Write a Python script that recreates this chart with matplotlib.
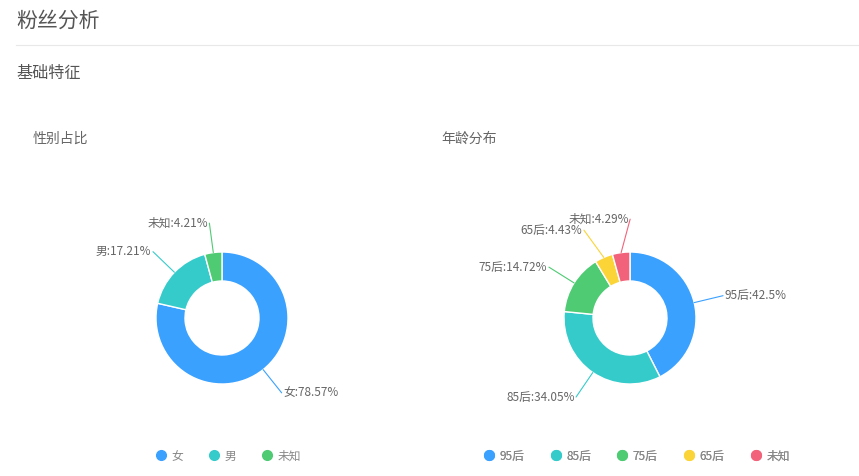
import numpy as np
import matplotlib
matplotlib.use("Agg")
import matplotlib.pyplot as plt
from matplotlib.lines import Line2D

plt.rcParams['font.family'] = ['Noto Sans CJK SC', 'DejaVu Sans']

# ---- data ----
gender_labels = ['女', '男', '未知']
gender_values = [78.57, 17.21, 4.21]
gender_colors = ['#3BA1FF', '#36CBCB', '#4ECB73']

age_labels = ['95后', '85后', '75后', '65后', '未知']
age_values = [42.5, 34.05, 14.72, 4.43, 4.29]
age_colors = ['#3BA1FF', '#36CBCB', '#4ECB73', '#FBD437', '#F2637B']

W, H = 859, 476
fig = plt.figure(figsize=(W / 100, H / 100), dpi=100)
ax = fig.add_axes([0, 0, 1, 1])
ax.set_xlim(0, W)
ax.set_ylim(0, H)
ax.axis('off')

def py(y):
    return H - y

# header
ax.text(16, py(21), '粉丝分析', fontsize=15, color='#555555', va='center', ha='left')
ax.plot([16, W], [py(44.5), py(44.5)], color='#e8e8e8', lw=0.8)
ax.text(16, py(73), '基础特征', fontsize=11.6, color='#555555', va='center', ha='left')
ax.text(33, py(139), '性别占比', fontsize=10, color='#666666', va='center', ha='left')
ax.text(441, py(139), '年龄分布', fontsize=10, color='#666666', va='center', ha='left')

R_OUT = 66
R_W = 29

def donut(cx, cy, labels, values, colors, nudges):
    wedges, _ = ax.pie(values, colors=colors, center=(cx, py(cy)), radius=R_OUT,
                       startangle=90, counterclock=False,
                       wedgeprops=dict(width=R_W, edgecolor='white', linewidth=1.0),
                       frame=True)
    for i, (w, lab, v, c) in enumerate(zip(wedges, labels, values, colors)):
        ang = np.deg2rad((w.theta1 + w.theta2) / 2)
        x0 = cx + R_OUT * np.cos(ang)
        y0 = py(cy) + R_OUT * np.sin(ang)
        x1 = cx + R_OUT * 1.45 * np.cos(ang)
        y1 = py(cy) + R_OUT * 1.45 * np.sin(ang)
        dx, dy = nudges.get(i, (0, 0))
        x1 += dx
        y1 += dy
        ax.plot([x0, x1], [y0, y1], color=c, lw=0.8, solid_capstyle='round')
        ha = 'left' if np.cos(ang) >= 0 else 'right'
        off = 1.5 if ha == 'left' else -1.5
        ax.text(x1 + off, y1, f'{lab}:{v}%', fontsize=8.5, color='#666666',
                ha=ha, va='center')

donut(222, 318, gender_labels, gender_values, gender_colors, {})
donut(630, 318, age_labels, age_values, age_colors, {3: (-8, 0), 4: (13, 4)})

ax.set_xlim(0, W)
ax.set_ylim(0, H)
ax.set_aspect('auto')
ax.axis('off')

def legend(x_center, labels, colors, spacing):
    handles = [Line2D([], [], marker='o', linestyle='none', markersize=7,
                      markerfacecolor=c, markeredgecolor=c) for c in colors]
    lg = ax.legend(handles, labels, loc='center', bbox_to_anchor=(x_center / W, 1 - 456 / H),
                   ncol=len(labels), frameon=False, fontsize=8.5, handlelength=0.8,
                   handletextpad=0.5, columnspacing=spacing)
    for t in lg.get_texts():
        t.set_color('#888888')
    ax.add_artist(lg)

legend(229, gender_labels, gender_colors, 2.2)
legend(637, age_labels, age_colors, 2.25)

fig.savefig('out.png', dpi=100, facecolor='white')
